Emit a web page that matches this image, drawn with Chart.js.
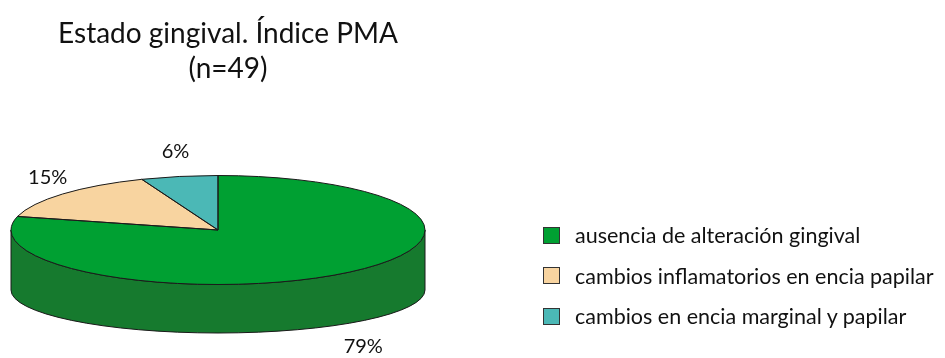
<!DOCTYPE html>
<html lang="es">
<head>
<meta charset="utf-8">
<title>Estado gingival. Índice PMA</title>
<script src="https://cdn.jsdelivr.net/npm/chart.js@4/dist/chart.umd.min.js"></script>
<style>
  html, body { margin: 0; padding: 0; background: #fff; }
  #wrap { position: relative; width: 945px; height: 358px; overflow: hidden; font-family: Lato, "Open Sans", sans-serif; color: #111; }
  #pie { position: absolute; left: 0; top: 0; }
  #title { position: absolute; left: 28px; top: 15px; width: 400px; text-align: center; font-size: 28px; line-height: 35px; }
  #legend { position: absolute; left: 543px; top: 215px; font-size: 21.5px; }
  #legend .item { display: flex; align-items: center; height: 40.5px; white-space: nowrap; }
  #legend .box { width: 15px; height: 15px; border: 1px solid #333; margin-right: 15px; flex: none; }
</style>
</head>
<body>
<div id="wrap">
  <canvas id="pie" width="945" height="358"></canvas>
  <div id="title"></div>
  <div id="legend"></div>
</div>
<script>
// Chart text and values
const titleLines = ['Estado gingival. Índice PMA', '(n=49)'];
const categories = [
  'ausencia de alteración gingival',
  'cambios inflamatorios en encia papilar',
  'cambios en encia marginal y papilar'
];
const percents = [79, 15, 6];

// Slice colours: top face and side wall
const topColors = ['#00a032', '#f8d4a0', '#4bb8b6'];
const sideColors = ['#167a2e', '#c9a77a', '#2f8c8a'];

// Geometry of the tilted disc (top ellipse and the flatter bottom rim)
const DISC = { cx: 218, cy: 230, a: 207, b: 54.5, bottomCy: 290, bottomB: 43 };

document.getElementById('title').innerHTML = titleLines.join('<br>');
document.getElementById('legend').innerHTML = categories.map((c, i) =>
  `<div class="item"><span class="box" style="background:${topColors[i]}"></span><span>${c}</span></div>`
).join('');

function arcProps(el) {
  return el.getProps(['x', 'y', 'startAngle', 'endAngle', 'outerRadius'], true);
}

// Flattens the library's pie into an ellipse and extrudes its front wall
const tiltPlugin = {
  id: 'tilt',
  beforeDatasetsDraw(chart) {
    const ctx = chart.ctx;
    const meta = chart.getDatasetMeta(0);
    const D = DISC;
    // side wall for the front half (canvas angles 0..PI)
    meta.data.forEach((el, i) => {
      const p = arcProps(el);
      const lo = Math.max(p.startAngle, 0);
      const hi = Math.min(p.endAngle, Math.PI);
      if (lo >= hi) return;
      ctx.save();
      ctx.beginPath();
      ctx.ellipse(D.cx, D.cy, D.a, D.b, 0, lo, hi);
      ctx.ellipse(D.cx, D.bottomCy, D.a, D.bottomB, 0, hi, lo, true);
      ctx.closePath();
      ctx.fillStyle = sideColors[i];
      ctx.fill();
      ctx.lineWidth = 1;
      ctx.strokeStyle = '#1a1a1a';
      ctx.stroke();
      ctx.restore();
    });
    const p0 = arcProps(meta.data[0]);
    const R = p0.outerRadius;
    ctx.save();
    ctx.translate(D.cx, D.cy);
    ctx.scale(D.a / R, D.b / R);
    ctx.translate(-p0.x, -p0.y);
  },
  afterDatasetsDraw(chart) {
    const ctx = chart.ctx;
    ctx.restore();
    const meta = chart.getDatasetMeta(0);
    const D = DISC;
    // slice outlines, built in the tilted space and stroked with an even pen
    meta.data.forEach((el) => {
      const p = arcProps(el);
      ctx.save();
      ctx.translate(D.cx, D.cy);
      ctx.scale(D.a / p.outerRadius, D.b / p.outerRadius);
      ctx.translate(-p.x, -p.y);
      ctx.beginPath();
      ctx.moveTo(p.x, p.y);
      ctx.arc(p.x, p.y, p.outerRadius, p.startAngle, p.endAngle);
      ctx.closePath();
      ctx.restore();
      ctx.lineWidth = 1;
      ctx.strokeStyle = '#1a1a1a';
      ctx.stroke();
    });
    // percentage labels outside each slice
    ctx.save();
    ctx.font = '20px Lato, "Open Sans", sans-serif';
    ctx.fillStyle = '#111';
    ctx.textAlign = 'center';
    ctx.textBaseline = 'middle';
    meta.data.forEach((el, i) => {
      const p = arcProps(el);
      const mid = (p.startAngle + p.endAngle) / 2;
      const s = Math.sin(mid);
      const front = s > 0;
      const lx = D.cx + (D.a + 20 + (front ? 10 : 0)) * Math.cos(mid);
      const ly = D.cy + (D.b + 25) * s + (front ? D.bottomCy - D.cy - 6 : 0);
      ctx.fillText(chart.data.datasets[0].data[i] + '%', lx, ly);
    });
    ctx.restore();
  }
};

new Chart(document.getElementById('pie'), {
  type: 'pie',
  data: {
    labels: categories,
    datasets: [{
      data: percents,
      backgroundColor: topColors,
      borderWidth: 0,
      clip: false
    }]
  },
  options: {
    responsive: false,
    animation: false,
    events: [],
    rotation: 0,
    plugins: { legend: { display: false }, title: { display: false }, tooltip: { enabled: false } }
  },
  plugins: [tiltPlugin]
});
</script>
</body>
</html>
